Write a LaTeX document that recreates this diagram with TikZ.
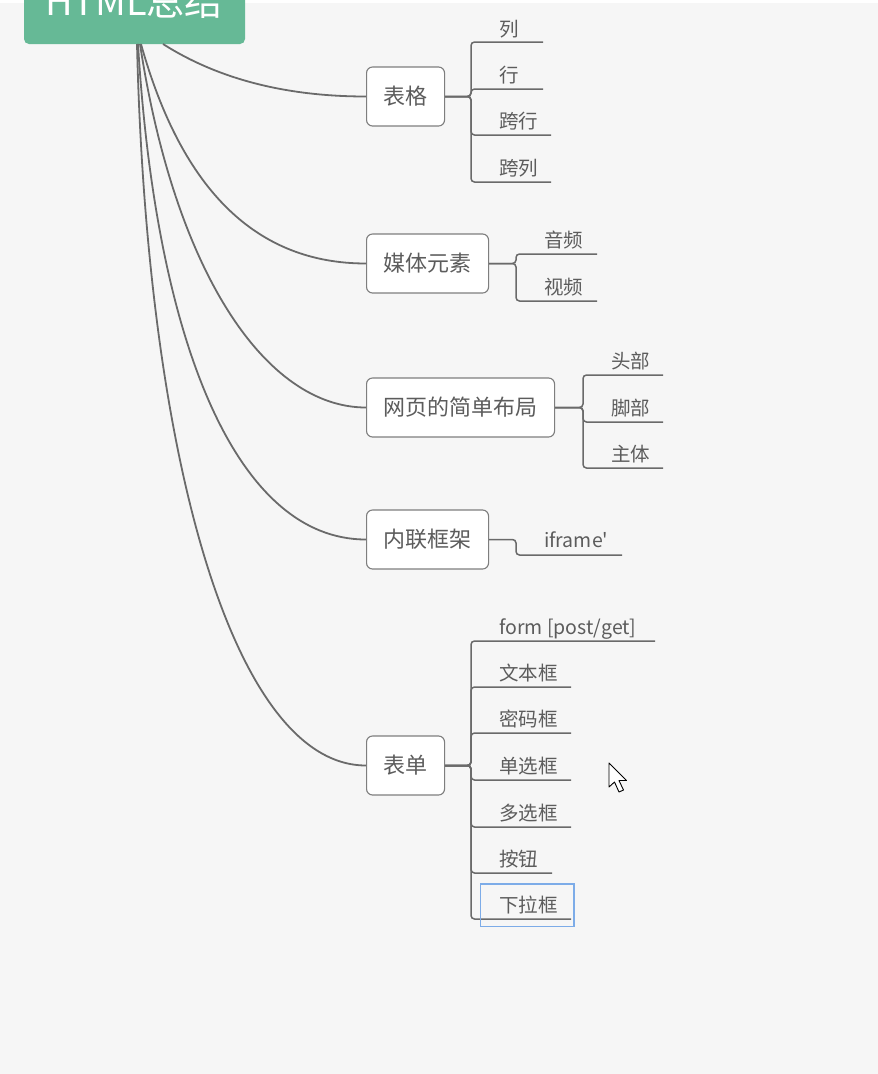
\documentclass[tikz,border=0pt]{standalone}
\usepackage{fontspec}
\setmainfont{Noto Sans CJK SC}
\newfontfamily\nomapfont[Ligatures=TeXOff]{Noto Sans CJK SC}
\usetikzlibrary{calc}
\definecolor{bg}{HTML}{F6F6F6}
\definecolor{rootgreen}{RGB}{102,185,150}
\definecolor{txt}{HTML}{5C5C5C}
\definecolor{ln}{HTML}{6A6A6A}
\definecolor{bd}{HTML}{7E7E7E}
\definecolor{selblue}{RGB}{125,172,232}
\tikzset{
  parent/.style={draw=bd, fill=white, rounded corners=6pt, line width=1.1pt,
    minimum height=59pt, inner xsep=17pt, inner ysep=0pt, anchor=west,
    text=txt, font=\fontsize{22}{24}\selectfont},
  child/.style={anchor=base west, inner sep=0pt, text=txt,
    font=\fontsize{19.5}{22}\selectfont},
  mainlink/.style={draw=ln, line width=1.8pt},
  sublink/.style={draw=ln, line width=1.5pt, rounded corners=3.5pt},
}
\begin{document}
\begin{tikzpicture}[x=1pt,y=-1pt]
\useasboundingbox (0,0) rectangle (878,1074);
\clip (0,0) rectangle (878,1074);
\fill[bg] (0,0) rectangle (878,1074);
\fill[white] (0,0) rectangle (878,3);

% root
\fill[rootgreen, rounded corners=5pt] (24,-20) rectangle (245,44);
\coordinate (root) at (134.5,44);
\node[anchor=base, text=white, inner sep=0pt, font=\fontsize{38}{40}\selectfont] (roottxt) at (134,15) {HTML总结};

% parents
\node[parent] (tg) at (366,96.5) {表格};
\node[parent] (mt) at (366,263.5) {媒体元素};
\node[parent] (wy) at (366,407.5) {网页的简单布局};
\node[parent] (nl) at (366,539.5) {内联框架};
\node[parent] (bd1) at (366,765.5) {表单};

% main curves
\draw[mainlink] ($(root)+(28.5,0)$) .. controls +(55,35) and +(-80,0) .. (tg.west);
\draw[mainlink] ($(root)+(6.5,0)$) .. controls +(41,147) and +(-109,0) .. (mt.west);
\draw[mainlink] ($(root)+(5.5,0)$) .. controls +(35,229) and +(-100,0) .. (wy.west);
\draw[mainlink] ($(root)+(3.5,0)$) .. controls +(18,298) and +(-130,0) .. (nl.west);
\draw[mainlink] ($(root)+(2.5,0)$) .. controls +(10,420) and +(-131,0) .. (bd1.west);

% 表格 children
\node[child] (tg1) at (499,36) {列};
\node[child] (tg2) at (499,82) {行};
\node[child] (tg3) at (499,128) {跨行};
\node[child] (tg4) at (499,175) {跨列};
\coordinate (tg1e) at (543,42);
\coordinate (tg2e) at (543,89);
\coordinate (tg3e) at (551,135);
\coordinate (tg4e) at (551,182);
\foreach \c in {tg1e,tg2e,tg3e,tg4e}
  \draw[sublink] (tg.east) -- (471,96.5) |- (\c);

% 媒体元素 children
\node[child] (mt1) at (544,247) {音频};
\node[child] (mt2) at (544,294) {视频};
\coordinate (mt1e) at (597,254);
\coordinate (mt2e) at (597,301);
\foreach \c in {mt1e,mt2e}
  \draw[sublink] (mt.east) -- (516,263.5) |- (\c);

% 网页的简单布局 children
\node[child] (wy1) at (611,368) {头部};
\node[child] (wy2) at (611,415) {脚部};
\node[child] (wy3) at (611,461) {主体};
\coordinate (wy1e) at (663,375);
\coordinate (wy2e) at (663,422);
\coordinate (wy3e) at (663,468);
\foreach \c in {wy1e,wy2e,wy3e}
  \draw[sublink] (wy.east) -- (583,407.5) |- (\c);

% 内联框架 child
\node[child] (nl1) at (544,547) {\nomapfont iframe'};
\coordinate (nl1e) at (622,555);
\draw[sublink] (nl.east) -- (516,539.5) |- (nl1e);

% 表单 children
\node[child] (f1) at (499,634) {form [post/get]};
\node[child] (f2) at (499,680) {文本框};
\node[child] (f3) at (499,726) {密码框};
\node[child] (f4) at (499,773) {单选框};
\node[child] (f5) at (499,820) {多选框};
\node[child] (f6) at (499,866) {按钮};
\node[child] (f7) at (499,912) {下拉框};
\coordinate (f1e) at (655,641);
\coordinate (f2e) at (571,687);
\coordinate (f3e) at (571,733);
\coordinate (f4e) at (571,780);
\coordinate (f5e) at (571,827);
\coordinate (f6e) at (552,873);
\coordinate (f7e) at (571,919);
\foreach \c in {f1e,f2e,f3e,f4e,f5e,f6e,f7e}
  \draw[sublink] (bd1.east) -- (471,765.5) |- (\c);

% selection box
\draw[selblue, line width=1.5pt] (480.5,884) rectangle (574,926.5);

% mouse cursor
\draw[black, fill=white, line width=0.9pt, line join=round]
  (609,763) -- (609,787) -- (614.5,782) -- (619,792) -- (623.5,790)
  -- (619,780.5) -- (626.5,780.5) -- cycle;
\end{tikzpicture}
\end{document}
